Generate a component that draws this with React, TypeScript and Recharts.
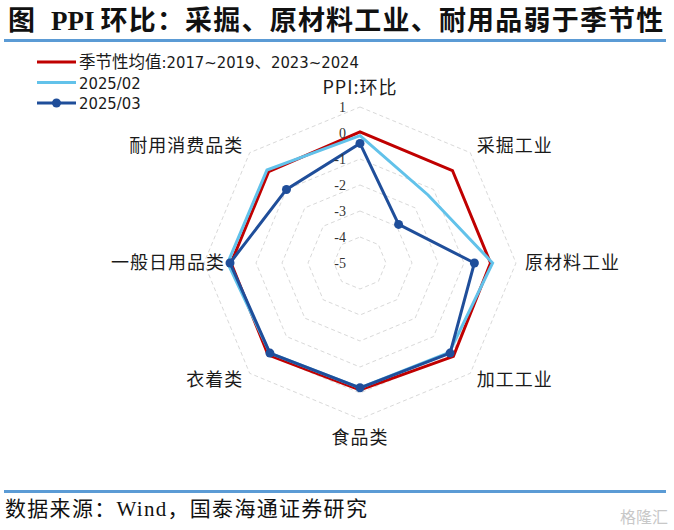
import React from "react";
import { RadarChart, Radar, PolarGrid, PolarAngleAxis, PolarRadiusAxis } from "recharts";

const categories = ["PPI:环比", "采掘工业", "原材料工业", "加工工业", "食品类", "衣着类", "一般日用品类", "耐用消费品类"];
const seasonalAvg = [0.04, 0.03, 0.02, 0.08, -0.12, 0.0, -0.04, -0.03];
const feb2025 = [-0.1, -1.3, 0.1, -0.14, -0.2, -0.1, 0.09, 0.06];
const mar2025 = [-0.4, -2.9, -0.6, -0.1, -0.2, -0.1, 0.0, -1.0];
const seriesNames = ["季节性均值:2017~2019、2023~2024", "2025/02", "2025/03"];
const radiusTicks = [-5, -4, -3, -2, -1, 0, 1];

const data = categories.map((c, i) => ({
  name: c,
  s: seasonalAvg[i],
  f: feb2025[i],
  m: mar2025[i],
}));

const CX = 360;
const CY = 263;
const R = 156;
const RED = "#C00000";
const LIGHT = "#62C2EA";
const DARK = "#1F4E9A";
const CJK = "'Noto Sans CJK SC', 'Noto Sans', sans-serif";
const SERIF = "'Liberation Serif', 'Noto Sans CJK SC', serif";
const LEGEND_FONT = "'DejaVu Sans Condensed', 'Noto Sans CJK SC', sans-serif";

const AngleTick = (props: any) => {
  const idx = props.index ?? 0;
  const label = props.payload?.value;
  const ang = ((90 - idx * 45) * Math.PI) / 180;
  const cos = Math.cos(ang);
  const sin = Math.sin(ang);
  let r = 165;
  let anchor: "start" | "middle" | "end" = "middle";
  if (cos > 0.1) anchor = "start";
  else if (cos < -0.1) anchor = "end";
  if (Math.abs(cos) < 0.1) r = 175;
  if (cos < -0.9) r = 135;
  const x = CX + r * cos;
  const y = CY - r * sin;
  return (
    <text
      x={x}
      y={y}
      dy={6}
      textAnchor={anchor}
      fontSize={18}
      letterSpacing={1}
      fontFamily={CJK}
      fill="#1a1a1a"
    >
      {label}
    </text>
  );
};

const RadiusTick = (props: any) => {
  const { y, payload } = props;
  return (
    <text x={CX - 14} y={y} dy={5} textAnchor="end" fontSize={14} fontFamily={SERIF} fill="#333">
      {payload.value}
    </text>
  );
};

export default function App() {
  return (
    <div style={{ position: "absolute", left: 0, top: 0, width: 674, height: 530, background: "#fff", overflow: "hidden" }}>
      <div
        style={{
          position: "absolute",
          left: 8,
          top: 1,
          fontSize: 27,
          fontWeight: 700,
          fontFamily: CJK,
          color: "#111",
          whiteSpace: "nowrap",
          lineHeight: "36px",
        }}
      >
        <span>图</span>
        <span style={{ fontFamily: SERIF, marginLeft: 16 }}>PPI</span>
        <span style={{ marginLeft: 6, letterSpacing: 1.2 }}>环比：采掘、原材料工业、耐用品弱于季节性</span>
      </div>
      <div style={{ position: "absolute", left: 4, top: 39, width: 662, height: 3, background: "#5B9BD5" }} />

      <RadarChart
        width={674}
        height={530}
        data={data}
        cx={CX}
        cy={CY}
        outerRadius={R}
        margin={{ top: 0, right: 0, bottom: 0, left: 0 }}
        style={{ position: "absolute", left: 0, top: 0 }}
      >
        <PolarGrid gridType="polygon" radialLines={false} stroke="#d9d9d9" strokeDasharray="4 3" strokeWidth={1} />
        <PolarAngleAxis dataKey="name" tick={AngleTick} tickLine={false} axisLine={false} />
        <PolarRadiusAxis
          angle={90}
          domain={[-5, 1]}
          ticks={radiusTicks as any}
          tickCount={7}
          axisLine={false}
          tick={RadiusTick}
          type="number"
        />
        <Radar name={seriesNames[0]} dataKey="s" stroke={RED} strokeWidth={3} fill="none" fillOpacity={0} isAnimationActive={false} />
        <Radar name={seriesNames[1]} dataKey="f" stroke={LIGHT} strokeWidth={3} fill="none" fillOpacity={0} isAnimationActive={false} />
        <Radar
          name={seriesNames[2]}
          dataKey="m"
          stroke={DARK}
          strokeWidth={3}
          fill="none"
          fillOpacity={0}
          dot={{ r: 4.5, fill: DARK, stroke: DARK, strokeWidth: 0, fillOpacity: 1 }}
          isAnimationActive={false}
        />
      </RadarChart>

      <svg width={674} height={120} style={{ position: "absolute", left: 0, top: 45 }}>
        {seriesNames.map((n, i) => {
          const y = 17 + i * 20.5;
          const col = [RED, LIGHT, DARK][i];
          return (
            <g key={n}>
              <line x1={37} x2={76} y1={y} y2={y} stroke={col} strokeWidth={3} />
              {i === 2 && <circle cx={56.5} cy={y} r={4.5} fill={DARK} />}
              <text x={79} y={y} dy={6} fontSize={16.5} fontFamily={LEGEND_FONT} fill="#1a1a1a">
                {n}
              </text>
            </g>
          );
        })}
      </svg>

      <div style={{ position: "absolute", left: 4, top: 490, width: 662, height: 3, background: "#5B9BD5" }} />
      <div
        style={{
          position: "absolute",
          left: 5,
          top: 493,
          fontSize: 21,
          fontFamily: CJK,
          color: "#111",
          whiteSpace: "nowrap",
          lineHeight: "28px",
          letterSpacing: 1.3,
        }}
      >
        数据来源：<span style={{ fontFamily: SERIF }}>Wind</span>，国泰海通证券研究
      </div>
      <div
        style={{
          position: "absolute",
          left: 620,
          top: 504,
          fontSize: 16,
          fontFamily: CJK,
          color: "#c8c8c8",
          whiteSpace: "nowrap",
        }}
      >
        格隆汇
      </div>
    </div>
  );
}
